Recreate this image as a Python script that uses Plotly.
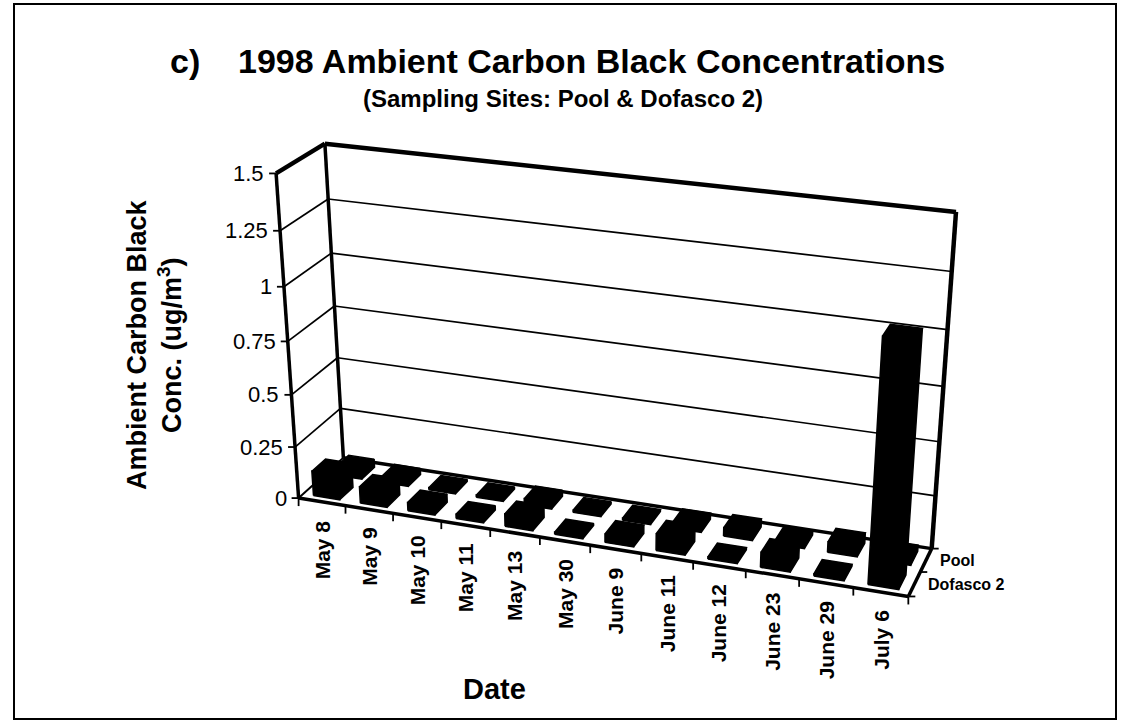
import numpy as np
import plotly.graph_objects as go

# ---- data -------------------------------------------------------------
categories = ["May 8", "May 9", "May 10", "May 11", "May 13", "May 30",
              "June 9", "June 11", "June 12", "June 23", "June 29", "July 6"]
series_names = ["Dofasco 2", "Pool"]          # front row, back row
dofasco2 = [0.12, 0.08, 0.04, 0.02, 0.06, 0.01, 0.04, 0.08, 0.01, 0.07, 0.01, 1.10]
pool = [0.04, 0.03, 0.01, 0.01, 0.03, 0.01, 0.01, 0.03, 0.04, 0.02, 0.05, 0.03]
value_ticks = [0, 0.25, 0.5, 0.75, 1.0, 1.25, 1.5]
value_tick_labels = ["0", "0.25", "0.5", "0.75", "1", "1.25", "1.5"]

# ---- page / box geometry ---------------------------------------------
W, H = 1122, 725
N = len(categories)
DEPTH = len(series_names)
VMAX = value_ticks[-1]
BAR_W = 0.56     # fraction of a category slot
BAR_D = 0.60     # fraction of a series row
FONT = "Liberation Sans, Arial, sans-serif"

# Box corners (category, value, row) and where they sit on the page.
frame_anchors = [
    ((0, 0, 0), (299, 498)),
    ((0, VMAX, 0), (276, 173)),
    ((0, VMAX, DEPTH), (325, 144)),
    ((0, 0, DEPTH), (343, 458)),
    ((N, VMAX, DEPTH), (956, 212)),
    ((N, 0, DEPTH), (932, 548)),
    ((N, 0, 0), (908, 597)),
]


def fit_camera(anchors):
    rows = []
    for (x, y, z), (u, v) in anchors:
        X, Y, Z = x / N, y / VMAX, z / DEPTH
        u, v = u / 1000.0, v / 1000.0
        rows.append([X, Y, Z, 1, 0, 0, 0, 0, -u * X, -u * Y, -u * Z, -u])
        rows.append([0, 0, 0, 0, X, Y, Z, 1, -v * X, -v * Y, -v * Z, -v])
    _, _, vt = np.linalg.svd(np.array(rows, dtype=float))
    return vt[-1].reshape(3, 4)


CAM = fit_camera(frame_anchors)


def proj(x, y, z):
    p = CAM @ np.array([x / N, y / VMAX, z / DEPTH, 1.0])
    return p[0] / p[2] * 1000.0, p[1] / p[2] * 1000.0


fig = go.Figure()


def add_segments(segs, width, color="black"):
    xs, ys = [], []
    for (a, b) in segs:
        xs += [a[0], b[0], None]
        ys += [a[1], b[1], None]
    fig.add_trace(go.Scatter(x=xs, y=ys, mode="lines",
                             line=dict(color=color, width=width),
                             hoverinfo="skip", showlegend=False))


def add_polys(polys, color="black"):
    xs, ys = [], []
    for poly in polys:
        for p in poly:
            xs.append(p[0])
            ys.append(p[1])
        xs += [poly[0][0], None]
        ys += [poly[0][1], None]
    fig.add_trace(go.Scatter(x=xs, y=ys, mode="lines", fill="toself",
                             fillcolor=color, line=dict(color=color, width=1.5),
                             hoverinfo="skip", showlegend=False))


# ---- walls: gridlines ------------------------------------------------
grid = []
for v in value_ticks[1:-1]:
    grid.append((proj(0, v, DEPTH), proj(N, v, DEPTH)))
    grid.append((proj(0, v, 0), proj(0, v, DEPTH)))
add_segments(grid, 1.7)

# floor left edge (thin)
add_segments([(proj(0, 0, 0), proj(0, 0, DEPTH))], 2)

# heavy frame edges
add_segments([
    (proj(0, 0, DEPTH), proj(0, VMAX, DEPTH)),
    (proj(0, 0, 0), proj(0, VMAX, 0)),
    (proj(0, 0, DEPTH), proj(N, 0, DEPTH)),
], 3.5)
add_segments([
    (proj(0, VMAX, DEPTH), proj(N, VMAX, DEPTH)),
    (proj(0, VMAX, 0), proj(0, VMAX, DEPTH)),
    (proj(N, 0, DEPTH), proj(N, VMAX, DEPTH)),
], 4.5)

# ---- bars -------------------------------------------------------------
rows = [dofasco2, pool]
bar_faces = []
for r in (1, 0):                       # back row first
    for i in range(N):
        h = rows[r][i]
        x0, x1 = i + (1 - BAR_W) / 2, i + (1 + BAR_W) / 2
        z0, z1 = r + (1 - BAR_D) / 2, r + (1 + BAR_D) / 2
        front = [proj(x0, 0, z0), proj(x1, 0, z0), proj(x1, h, z0), proj(x0, h, z0)]
        top = [proj(x0, h, z0), proj(x1, h, z0), proj(x1, h, z1), proj(x0, h, z1)]
        side = [proj(x1, 0, z0), proj(x1, 0, z1), proj(x1, h, z1), proj(x1, h, z0)]
        bar_faces += [side, front, top]
add_polys(bar_faces)

# floor front and right edges drawn over everything
add_segments([(proj(0, 0, 0), proj(N, 0, 0)),
              (proj(N, 0, 0), proj(N, 0, DEPTH))], 3.5)

# ---- tick marks -------------------------------------------------------
ticks = []
for v in value_ticks:
    px, py = proj(0, v, 0)
    ticks.append(((px - 7, py), (px, py)))
for i in range(N + 1):
    px, py = proj(i, 0, 0)
    ticks.append(((px, py), (px, py + 8)))
for r in range(DEPTH + 1):
    px, py = proj(N, 0, r)
    ticks.append(((px, py), (px + 7, py)))
add_segments(ticks, 1.8)

# ---- text -------------------------------------------------------------
ann = []
for v, lab in zip(value_ticks, value_tick_labels):
    px, py = proj(0, v, 0)
    ann.append(dict(x=px - 10, y=py, text=lab, xanchor="right", yanchor="middle",
                    font=dict(size=22, family=FONT, color="black")))
for i, lab in enumerate(categories):
    px, py = proj(i + 0.5, 0, 0)
    ann.append(dict(x=px, y=py + 16, text="<b>%s</b>" % lab, textangle=-90,
                    xanchor="center", yanchor="top",
                    font=dict(size=21, family=FONT, color="black")))
for r, lab in enumerate(series_names):
    px, py = proj(N, 0, r + 0.5)
    ann.append(dict(x=px + 12, y=py, text="<b>%s</b>" % lab, xanchor="left",
                    yanchor="middle", font=dict(size=16, family=FONT, color="black")))

ann.append(dict(x=168, y=61, text="<b>c)</b>", xanchor="left", yanchor="middle",
                font=dict(size=34, family=FONT, color="black")))
ann.append(dict(x=236, y=61, text="<b>1998 Ambient Carbon Black Concentrations</b>",
                xanchor="left", yanchor="middle",
                font=dict(size=34, family=FONT, color="black")))
ann.append(dict(x=563, y=98, text="<b>(Sampling Sites: Pool & Dofasco 2)</b>",
                xanchor="center", yanchor="middle",
                font=dict(size=24, family=FONT, color="black")))
ann.append(dict(x=154, y=345,
                text="<b>Ambient Carbon Black<br>Conc. (ug/m<sup>3</sup>)</b>",
                textangle=-90, xanchor="center", yanchor="middle",
                font=dict(size=27, family=FONT, color="black")))
ann.append(dict(x=494, y=689, text="<b>Date</b>", xanchor="center", yanchor="middle",
                font=dict(size=29, family=FONT, color="black")))
for a in ann:
    a.update(xref="x", yref="y", showarrow=False)

fig.update_layout(
    width=W, height=H,
    margin=dict(l=0, r=0, t=0, b=0),
    paper_bgcolor="white", plot_bgcolor="white",
    showlegend=False,
    xaxis=dict(range=[0, W], visible=False, fixedrange=True),
    yaxis=dict(range=[H, 0], visible=False, fixedrange=True),
    annotations=ann,
    shapes=[dict(type="rect", xref="x", yref="y", x0=14, y0=4, x1=1116, y1=719,
                 line=dict(color="black", width=2))],
)

fig.write_html("out.html")
